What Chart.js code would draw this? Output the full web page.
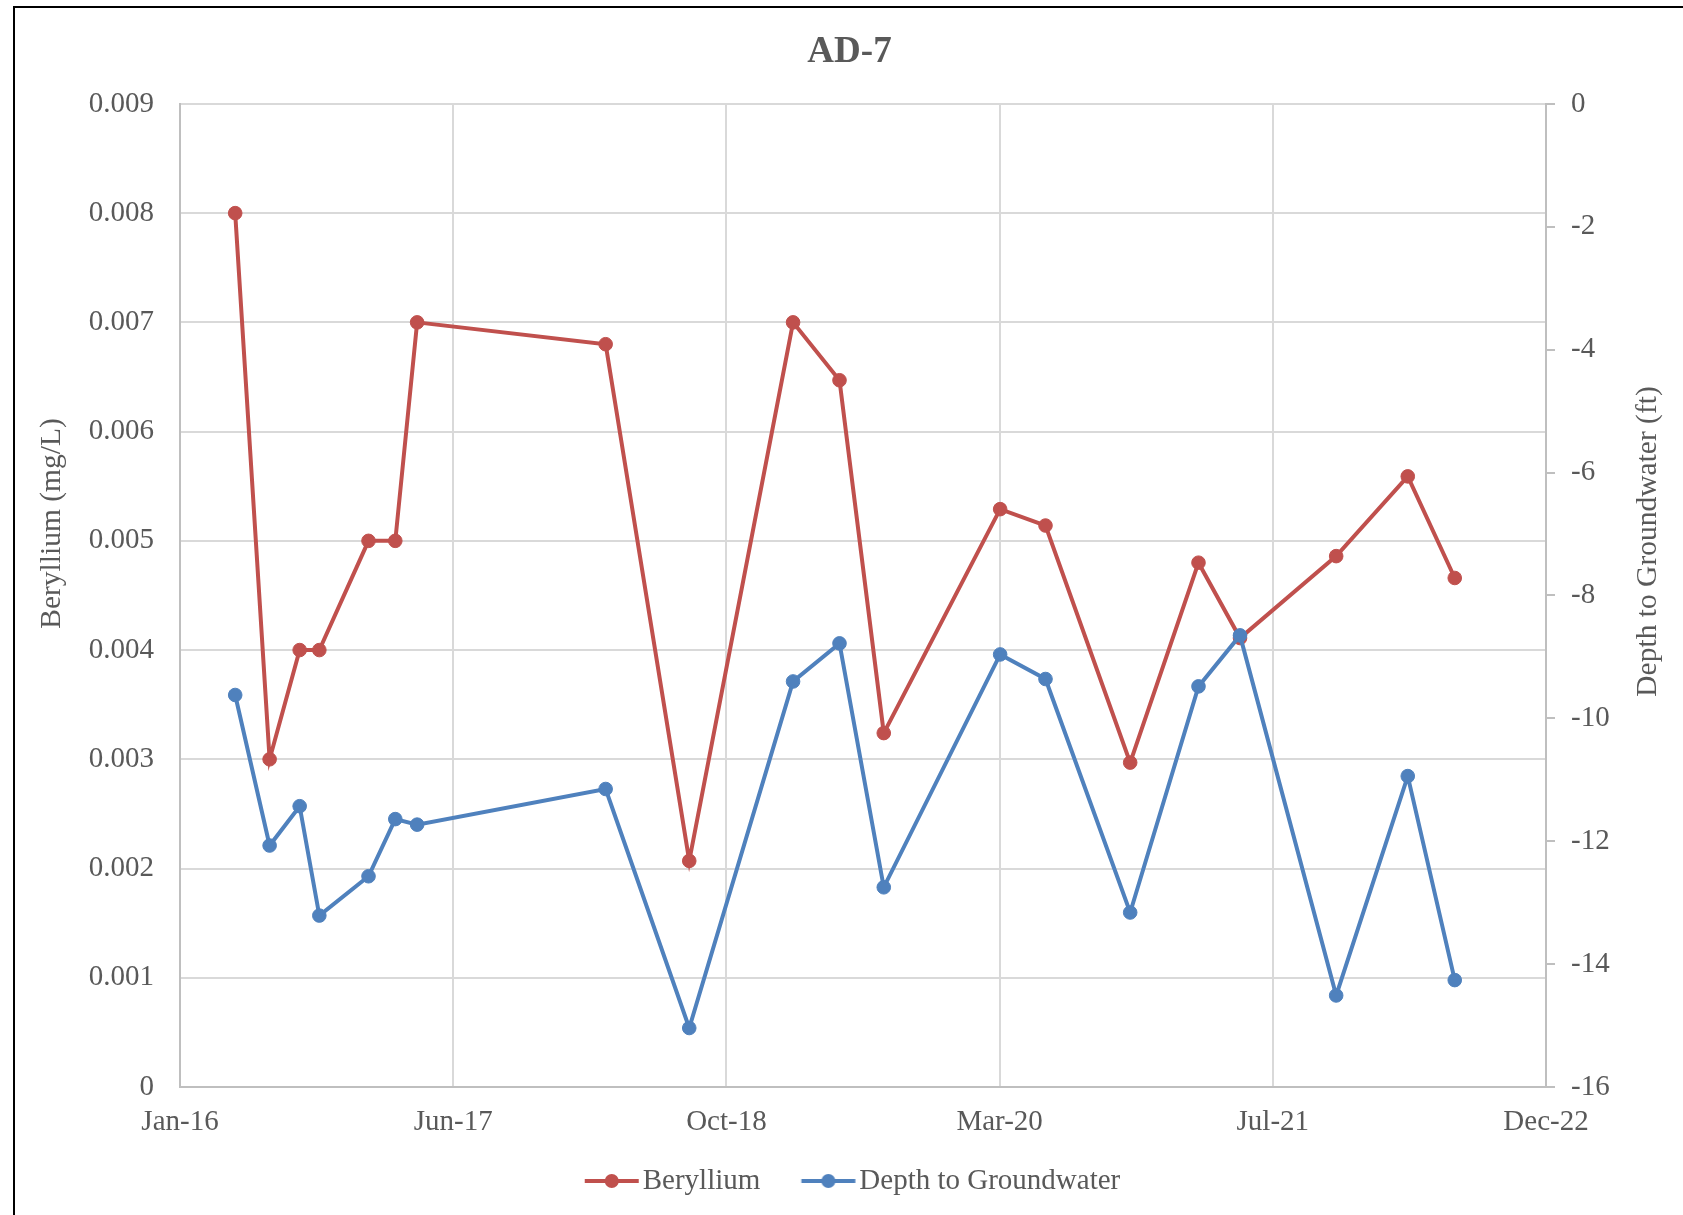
<!DOCTYPE html>
<html>
<head>
<meta charset="utf-8">
<title>AD-7</title>
<script src="https://cdn.jsdelivr.net/npm/chart.js@4.4.1/dist/chart.umd.min.js"></script>
<style>
  html, body { margin: 0; padding: 0; background: #fff; overflow: hidden; }
  #wrap { position: relative; width: 1683px; height: 1215px; }
  #frame { position: absolute; left: 13px; top: 6px; width: 1700px; height: 1300px;
           border-left: 2px solid #000; border-top: 2px solid #000; pointer-events: none; }
</style>
</head>
<body>
<div id="wrap">
  <canvas id="grafica"></canvas>
  <div id="frame"></div>
</div>
<script>
// fechas de muestreo
const sampleDates = ['2016-05-11', '2016-07-13', '2016-09-06', '2016-10-12', '2017-01-10',
  '2017-02-28', '2017-04-09', '2018-03-20', '2018-08-20', '2019-02-26', '2019-05-22',
  '2019-08-11', '2020-03-11', '2020-06-02', '2020-11-04', '2021-03-09', '2021-05-24',
  '2021-11-16', '2022-03-27', '2022-06-21'];
// Beryllium (mg/L)
const beryllium = [0.008, 0.003, 0.004, 0.004, 0.005, 0.005, 0.007, 0.0068, 0.00207, 0.007,
  0.00647, 0.00324, 0.00529, 0.00514, 0.00297, 0.0048, 0.00411, 0.00486, 0.00559, 0.00466];
// Depth to Groundwater (ft)
const depthToWater = [-9.62, -12.07, -11.43, -13.21, -12.57, -11.64, -11.73, -11.15, -15.04, -9.40,
  -8.78, -12.75, -8.96, -9.36, -13.16, -9.48, -8.65, -14.51, -10.94, -14.26];
// ejes
const xTickDates = ['2016-01-31', '2017-06-14', '2018-10-27', '2020-03-10', '2021-07-23', '2022-12-05'];
const xTickLabels = ['Jan-16', 'Jun-17', 'Oct-18', 'Mar-20', 'Jul-21', 'Dec-22'];
const leftTicks = [0, 0.001, 0.002, 0.003, 0.004, 0.005, 0.006, 0.007, 0.008, 0.009];
const leftTickLabels = ['0', '0.001', '0.002', '0.003', '0.004', '0.005', '0.006', '0.007', '0.008', '0.009'];
const rightTicks = [-16, -14, -12, -10, -8, -6, -4, -2, 0];

const rojo = '#C0504D';
const azul = '#4F81BD';
const gris = '#595959';
const serif = '"Liberation Serif", "Times New Roman", serif';

const toDay = s => Date.parse(s + 'T00:00:00Z') / 864e5;

// icono de leyenda: linea con marcador (el lienzo queda centrado en x + pointStyleWidth/2)
function legendIcon(color) {
  const c = document.createElement('canvas');
  c.width = 88; c.height = 18;
  const g = c.getContext('2d');
  g.strokeStyle = color; g.lineWidth = 4;
  g.beginPath(); g.moveTo(32.75, 9); g.lineTo(86.75, 9); g.stroke();
  g.fillStyle = color;
  g.beginPath(); g.arc(59.75, 9, 7, 0, Math.PI * 2); g.fill();
  return c;
}

// titulos de ejes (texto rotado hacia arriba en ambos lados, como en Excel)
const axisTitles = {
  id: 'axisTitles',
  afterDraw(chart) {
    const {ctx, chartArea, scales} = chart;
    const mid = (chartArea.top + chartArea.bottom) / 2;
    ctx.save();
    ctx.fillStyle = gris;
    ctx.font = '29.5px ' + serif;
    ctx.textAlign = 'center';
    ctx.textBaseline = 'middle';
    ctx.save();
    ctx.translate(scales.y.left + 36, mid - 72);
    ctx.rotate(-Math.PI / 2);
    ctx.fillText('Beryllium (mg/L)', 0, 0);
    ctx.restore();
    ctx.translate(scales.y1.right - 35, mid - 54);
    ctx.rotate(-Math.PI / 2);
    ctx.fillText('Depth to Groundwater (ft)', 0, 0);
    ctx.restore();
  }
};

// la leyenda de Excel no queda centrada con el titulo
const legendNudge = {
  id: 'legendNudge',
  afterLayout(chart) {
    chart.legend.left -= 7.5;
    chart.legend.right -= 7.5;
  }
};

new Chart(document.querySelector('#grafica'), {
  type: 'line',
  data: {
    datasets: [
      {
        label: 'Beryllium',
        data: sampleDates.map((d, i) => ({x: toDay(d), y: beryllium[i]})),
        yAxisID: 'y',
        borderColor: rojo,
        backgroundColor: rojo,
        pointBackgroundColor: rojo,
        borderWidth: 4,
        pointRadius: 6.8,
        pointBorderWidth: 1,
        order: 1
      },
      {
        label: 'Depth to Groundwater',
        data: sampleDates.map((d, i) => ({x: toDay(d), y: depthToWater[i]})),
        yAxisID: 'y1',
        borderColor: azul,
        backgroundColor: azul,
        pointBackgroundColor: azul,
        borderWidth: 4,
        pointRadius: 6.8,
        pointBorderWidth: 1,
        order: 0
      }
    ]
  },
  options: {
    responsive: true,
    maintainAspectRatio: false,
    animation: false,
    devicePixelRatio: 1,
    layout: {padding: {left: 16, right: 0, top: 0, bottom: 9.5}},
    scales: {
      x: {
        type: 'linear',
        position: 'bottom',
        min: toDay(xTickDates[0]),
        max: toDay(xTickDates[xTickDates.length - 1]),
        afterBuildTicks: s => { s.ticks = xTickDates.map(d => ({value: toDay(d)})); },
        afterFit: s => { s.height = 59.5; },
        ticks: {
          callback: (v, i) => xTickLabels[i],
          color: gris,
          font: {family: serif, size: 29},
          padding: 17.5,
          maxRotation: 0,
          autoSkip: false
        },
        grid: {color: '#d9d9d9', lineWidth: 2, drawTicks: false},
        border: {color: '#bfbfbf', width: 2}
      },
      y: {
        position: 'left',
        min: 0,
        max: 0.009,
        afterBuildTicks: s => { s.ticks = leftTicks.map(v => ({value: v})); },
        afterFit: s => { s.width = 164; },
        ticks: {
          callback: (v, i) => leftTickLabels[i],
          color: gris,
          font: {family: serif, size: 29},
          padding: 26
        },
        grid: {color: '#d9d9d9', lineWidth: 2, drawTicks: false},
        border: {color: '#bfbfbf', width: 2}
      },
      y1: {
        position: 'right',
        min: -16,
        max: 0,
        afterBuildTicks: s => { s.ticks = rightTicks.map(v => ({value: v})); },
        afterFit: s => { s.width = 137; },
        ticks: {
          callback: v => String(v),
          color: gris,
          font: {family: serif, size: 29},
          padding: 16
        },
        grid: {drawOnChartArea: false, drawTicks: true, tickLength: 9, color: '#bfbfbf', lineWidth: 2},
        border: {color: '#bfbfbf', width: 2}
      }
    },
    plugins: {
      title: {
        display: true,
        text: 'AD-7',
        color: gris,
        font: {family: serif, size: 37, weight: 'bold'},
        padding: {top: 30, bottom: 29.5}
      },
      legend: {
        position: 'bottom',
        labels: {
          usePointStyle: true,
          pointStyleWidth: 64.5,
          padding: 20,
          color: gris,
          font: {family: serif, size: 29},
          generateLabels: chart => chart.data.datasets.map((ds, i) => ({
            text: ds.label,
            fillStyle: ds.borderColor,
            strokeStyle: ds.borderColor,
            lineWidth: 0,
            pointStyle: legendIcon(ds.borderColor),
            fontColor: gris,
            datasetIndex: i,
            hidden: !chart.isDatasetVisible(i)
          }))
        }
      },
      tooltip: {enabled: false}
    }
  },
  plugins: [axisTitles, legendNudge]
});
</script>
</body>
</html>
